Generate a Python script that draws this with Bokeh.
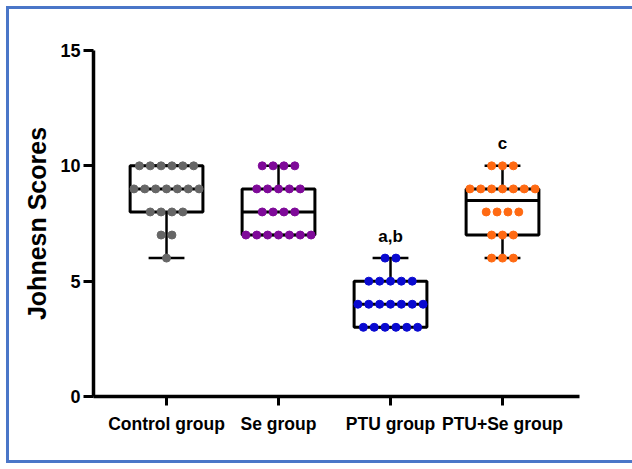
import numpy as np
from bokeh.plotting import figure
from bokeh.models import FixedTicker, InlineStyleSheet
from bokeh.embed import file_html
from bokeh.resources import INLINE
from bokeh.core.properties import value

# ---- data ----
groups = ["Control group", "Se group", "PTU group", "PTU+Se group"]
colors = ["#666666", "#7f0a99", "#0a0ad0", "#ff6a13"]

# individual scores: score levels and number of animals at each level
control_scores = [10, 9, 8, 7, 6]
control_counts = [6, 7, 4, 2, 1]
se_scores = [10, 9, 8, 7]
se_counts = [4, 5, 4, 7]
ptu_scores = [6, 5, 4, 3]
ptu_counts = [2, 5, 7, 6]
ptuse_scores = [10, 9, 8, 7, 6]
ptuse_counts = [3, 7, 4, 3, 3]

# box plot statistics
mins = [6, 7, 3, 6]
q1 = [8, 7, 3, 7]
medians = [9, 8, 4, 8.5]
q3 = [10, 9, 5, 9]
maxs = [10, 10, 6, 10]

# significance letters
sig_labels = ["", "", "a,b", "c"]

y_ticks = [0, 5, 10, 15]

# ---- figure ----
FONT = "Liberation Sans"

frame_css = InlineStyleSheet(css="""
:host { position: relative; overflow: hidden; }
:host::after {
  content: "";
  position: absolute;
  left: 6px; top: 6px; right: -30px; bottom: 6px;
  border: 3px solid #4a76c8;
  pointer-events: none;
  z-index: 1000;
}
""")

p = figure(width=632, height=469, x_range=(-0.652, 3.6875), y_range=(0, 15),
           output_backend="svg", toolbar_location=None,
           min_border_left=93, min_border_right=53, min_border_top=50, min_border_bottom=73,
           stylesheets=[frame_css])
p.background_fill_color = "white"
p.border_fill_color = "white"
p.outline_line_color = None
p.xgrid.visible = False
p.ygrid.visible = False

xs = list(range(len(groups)))
box_w = 0.65
cap_w = 0.32

# boxes
p.vbar(x=xs, width=box_w, bottom=q1, top=q3, fill_color="white", line_color="black", line_width=3)
# medians
p.segment(x0=[x - box_w / 2 for x in xs], x1=[x + box_w / 2 for x in xs], y0=medians, y1=medians,
          line_color="black", line_width=3)
# whiskers
p.segment(x0=xs, x1=xs, y0=q3, y1=maxs, line_color="black", line_width=2.5)
p.segment(x0=xs, x1=xs, y0=q1, y1=mins, line_color="black", line_width=2.5)
p.segment(x0=[x - cap_w / 2 for x in xs], x1=[x + cap_w / 2 for x in xs], y0=maxs, y1=maxs,
          line_color="black", line_width=2.5)
p.segment(x0=[x - cap_w / 2 for x in xs], x1=[x + cap_w / 2 for x in xs], y0=mins, y1=mins,
          line_color="black", line_width=2.5)

# dots
all_scores = [control_scores, se_scores, ptu_scores, ptuse_scores]
all_counts = [control_counts, se_counts, ptu_counts, ptuse_counts]
spacing = 0.097
for gi, (scs, cts) in enumerate(zip(all_scores, all_counts)):
    px, py = [], []
    for s, n in zip(scs, cts):
        offs = (np.arange(n) - (n - 1) / 2) * spacing
        px.extend(list(gi + offs))
        py.extend([s] * n)
    p.scatter(x=px, y=py, size=8, fill_color=colors[gi], line_color=colors[gi])

# significance letters
lx = [x for x, l in zip(xs, sig_labels) if l]
ly = [m + 0.95 for m, l in zip(maxs, sig_labels) if l]
lt = [l for l in sig_labels if l]
p.text(x=lx, y=ly, text=lt, text_align="center", text_baseline="alphabetic",
       text_font=value(FONT), text_font_style="bold", text_font_size="17px", text_color="black")

# axes
p.xaxis.ticker = FixedTicker(ticks=xs)
p.xaxis.major_label_overrides = {i: g for i, g in enumerate(groups)}
p.xaxis.minor_tick_line_color = None
p.xaxis.axis_line_width = 3.5
p.xaxis.major_tick_line_width = 3
p.xaxis.major_tick_in = 0
p.xaxis.major_tick_out = 9
p.xaxis.major_label_standoff = 8
p.xaxis.major_label_text_font = FONT
p.xaxis.major_label_text_font_style = "bold"
p.xaxis.major_label_text_font_size = "17.5px"
p.xaxis.major_label_text_color = "black"

p.yaxis.ticker = FixedTicker(ticks=y_ticks)
p.yaxis.minor_tick_line_color = None
p.yaxis.axis_line_width = 3.5
p.yaxis.major_tick_line_width = 3
p.yaxis.major_tick_in = 0
p.yaxis.major_tick_out = 10
p.yaxis.major_label_standoff = 3
p.yaxis.major_label_text_font = FONT
p.yaxis.major_label_text_font_style = "bold"
p.yaxis.major_label_text_font_size = "18px"
p.yaxis.major_label_text_color = "black"
p.yaxis.axis_label = "Johnesn Scores"
p.yaxis.axis_label_text_font = FONT
p.yaxis.axis_label_text_font_style = "bold"
p.yaxis.axis_label_text_font_size = "25px"
p.yaxis.axis_label_text_color = "black"
p.yaxis.axis_label_standoff = 6

open("out.html", "w").write(file_html(p, INLINE))
